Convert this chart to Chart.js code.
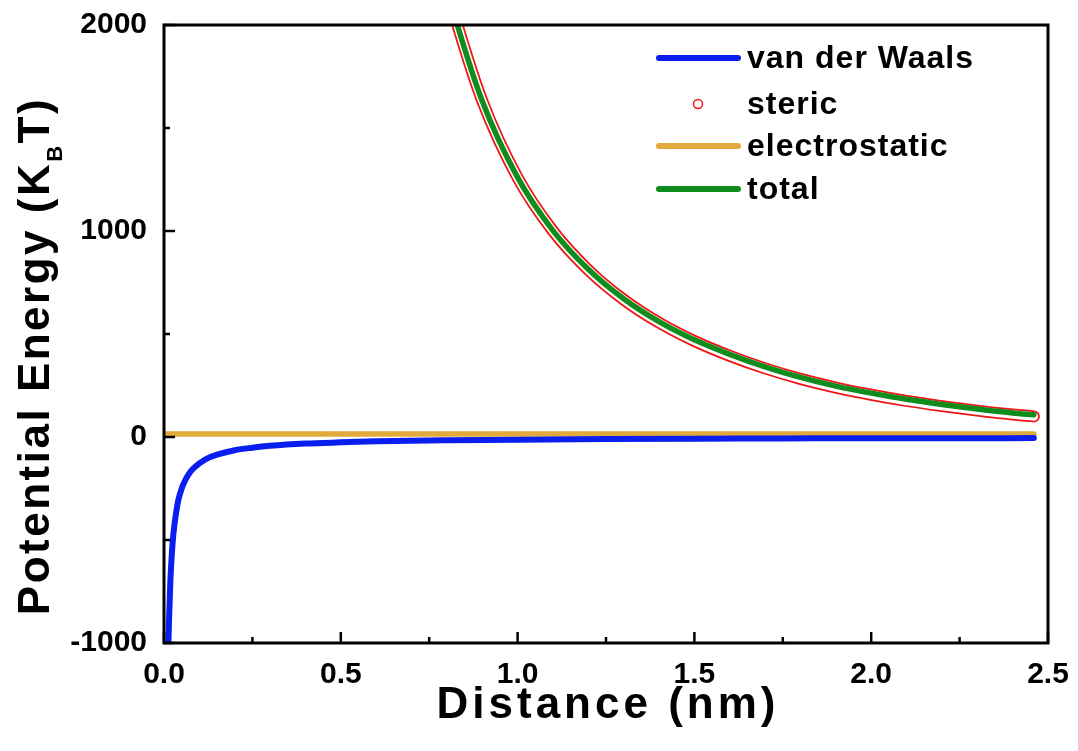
<!DOCTYPE html>
<html><head><meta charset="utf-8">
<script src="https://cdn.jsdelivr.net/npm/chart.js@4/dist/chart.umd.min.js"></script>
<style>html,body{margin:0;padding:0;background:#fff;overflow:hidden}</style>
</head><body>
<canvas id="c" width="1078" height="751" style="width:1078px;height:751px;display:block"></canvas>
<script>
// ---- data ----
const vdwX = [0.0115,0.0125,0.014,0.016,0.018,0.021,0.025,0.03,0.035,0.04,0.05,0.06,0.07,0.08,0.1,0.12,0.15,0.2,0.25,0.3,0.4,0.5,0.6,0.7,0.8,1.0,1.25,1.5,1.75,2.0,2.25,2.46];
const vdwY = [-1080,-1000,-900,-800,-700,-600,-500,-420,-360,-310,-250,-210,-180,-158,-128,-106,-86,-64,-52,-43,-32,-26,-21,-18,-16,-13,-10,-8,-7,-6,-6,-5];
const elecX = [0,0.5,1.0,1.5,2.0,2.46];
const elecY = [14,14,14,14,14,14];
const stericX = [0.80,0.83,0.90,1.00,1.10,1.20,1.30,1.40,1.50,1.60,1.70,1.80,1.90,2.00,2.10,2.20,2.30,2.40,2.46];
const stericY = [2185,2000,1632,1259,1000,811,667,555,466,394,333,282,240,205,175,150,128,109,100];
const totalY  = [2183,1998,1631,1260,1002,814,671,560,472,401,340,289,247,213,183,158,136,117,108];
const xTicks = [0,0.5,1.0,1.5,2.0,2.5];
const xMinorTicks = [0.25,0.75,1.25,1.75,2.25];
const yTicks = [-1000,0,1000,2000];
const yMinorTicks = [-500,500,1500];
const seriesNames = ['van der Waals','steric','electrostatic','total'];
const seriesColors = ['#0a1ef0','#f01414','#e2aa3a','#0f8c1e'];

const pts = (xs, ys) => xs.map((x, i) => ({x, y: ys[i]}));
const FONT = '"Liberation Sans", Arial, Helvetica, sans-serif';

const decor = {
  id: 'decor',
  afterDatasetsDraw(chart) {
    const {ctx, chartArea: a, scales: {x, y}} = chart;
    ctx.save();
    ctx.strokeStyle = '#000';
    ctx.lineWidth = 3;
    ctx.lineCap = 'butt';
    ctx.strokeRect(a.left, a.top, a.right - a.left, a.bottom - a.top);
    const seg = (x1, y1, x2, y2) => { ctx.beginPath(); ctx.moveTo(x1, y1); ctx.lineTo(x2, y2); ctx.stroke(); };
    ctx.lineWidth = 2.5;
    xTicks.forEach(v => { const p = x.getPixelForValue(v); seg(p, a.bottom, p, a.bottom - 11); });
    xMinorTicks.forEach(v => { const p = x.getPixelForValue(v); seg(p, a.bottom, p, a.bottom - 6); });
    yTicks.forEach(v => { const p = y.getPixelForValue(v); seg(a.left, p, a.left + 11, p); });
    yMinorTicks.forEach(v => { const p = y.getPixelForValue(v); seg(a.left, p, a.left + 6, p); });

    // legend
    const rows = [58, 104, 146, 189];
    ctx.font = 'bold 32px ' + FONT;
    ctx.letterSpacing = '1px';
    ctx.textBaseline = 'middle';
    ctx.textAlign = 'left';
    chart.data.datasets.filter(d => !d.helper).forEach((d, i) => {
      const yy = rows[i];
      if (d.label === 'steric') {
        ctx.beginPath(); ctx.arc(698, yy, 4.5, 0, Math.PI * 2);
        ctx.strokeStyle = d.borderColor; ctx.lineWidth = 1.5; ctx.stroke();
      } else {
        ctx.beginPath(); ctx.moveTo(659, yy); ctx.lineTo(738, yy);
        ctx.strokeStyle = d.borderColor; ctx.lineWidth = 6; ctx.lineCap = 'round'; ctx.stroke();
      }
      ctx.fillStyle = '#000';
      ctx.fillText(d.label, 747, yy + 1);
    });
    ctx.restore();
  },
  afterDraw(chart) {
    const {ctx} = chart;
    ctx.save();
    ctx.fillStyle = '#000';
    // x title
    ctx.font = 'bold 44px ' + FONT;
    ctx.letterSpacing = '4px';
    ctx.textAlign = 'center';
    ctx.textBaseline = 'alphabetic';
    ctx.fillText('Distance (nm)', 608, 718);
    // y title with subscript
    ctx.letterSpacing = '2.5px';
    ctx.translate(49, 356);
    ctx.rotate(-Math.PI / 2);
    const big = 'bold 44px ' + FONT, small = 'bold 22px ' + FONT;
    const parts = [['Potential Energy (K', big, 0], ['B', small, 13], ['T)', big, 0]];
    let total = 0;
    parts.forEach(p => { ctx.font = p[1]; total += ctx.measureText(p[0]).width; });
    let cx = -total / 2;
    ctx.textAlign = 'left';
    parts.forEach(p => { ctx.font = p[1]; ctx.fillText(p[0], cx, p[2]); cx += ctx.measureText(p[0]).width; });
    ctx.restore();
  }
};

new Chart(document.getElementById('c'), {
  type: 'line',
  data: {
    datasets: [
      {label: seriesNames[3], data: pts(stericX, totalY), borderColor: seriesColors[3], borderWidth: 5.5, order: 0},
      {label: seriesNames[1] + ' inner', helper: true, data: pts(stericX, stericY), borderColor: '#ffffff', borderWidth: 8.5, order: 1},
      {label: seriesNames[1], data: pts(stericX, stericY), borderColor: seriesColors[1], borderWidth: 12, order: 2},
      {label: seriesNames[0], data: pts(vdwX, vdwY), borderColor: seriesColors[0], borderWidth: 6, order: 3},
      {label: seriesNames[2], data: pts(elecX, elecY), borderColor: seriesColors[2], borderWidth: 5.5, order: 4}
    ].map(d => Object.assign({pointRadius: 0, fill: false, cubicInterpolationMode: 'monotone', borderCapStyle: 'round', clip: 0}, d))
     .sort((a, b) => seriesNames.indexOf(a.label) - seriesNames.indexOf(b.label) || (a.helper ? 1 : -1))
  },
  options: {
    responsive: false,
    animation: false,
    devicePixelRatio: 1,
    layout: {padding: {top: 25, right: 30, left: 0, bottom: 0}},
    plugins: {legend: {display: false}, tooltip: {enabled: false}},
    scales: {
      x: {
        type: 'linear', min: 0, max: 2.5,
        afterBuildTicks: s => { s.ticks = xTicks.map(v => ({value: v})); },
        afterFit: s => { s.height = 108; s.paddingLeft = 0; s.paddingRight = 0; },
        grid: {display: false, drawTicks: false},
        border: {display: false},
        ticks: {padding: 14, color: '#000', font: {family: FONT, size: 30, weight: 'bold'}, callback: v => v.toFixed(1), maxRotation: 0}
      },
      y: {
        type: 'linear', min: -1000, max: 2000,
        afterBuildTicks: s => { s.ticks = yTicks.map(v => ({value: v})); },
        afterFit: s => { s.width = 164; s.paddingTop = 0; s.paddingBottom = 0; },
        grid: {display: false, drawTicks: false},
        border: {display: false},
        ticks: {padding: 17, color: '#000', font: {family: FONT, size: 30, weight: 'bold'}, callback: v => String(v)}
      }
    }
  },
  plugins: [decor]
});
</script>
</body></html>
